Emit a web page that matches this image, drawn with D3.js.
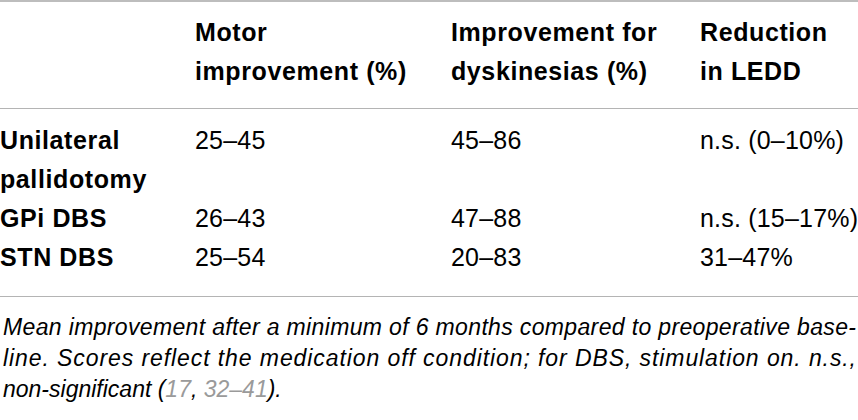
<!DOCTYPE html>
<html>
<head>
<meta charset="utf-8">
<script src="https://cdn.jsdelivr.net/npm/d3@7"></script>
<style>
  body { margin: 0; background: #fff; }
  svg { display: block; }
  text { font-family: "Liberation Sans", Arial, sans-serif; fill: #000; }
</style>
</head>
<body>
<svg id="table" width="858" height="420"></svg>
<script>
// table content
const headers = [
  ["", ""],
  ["Motor", "improvement (%)"],
  ["Improvement for", "dyskinesias (%)"],
  ["Reduction", "in LEDD"]
];
const procedures = [["Unilateral", "pallidotomy"], ["GPi DBS"], ["STN DBS"]];
const motorImprovement = ["25–45", "26–43", "25–54"];
const dyskinesiaImprovement = ["45–86", "47–88", "20–83"];
const leddReduction = ["n.s. (0–10%)", "n.s. (15–17%)", "31–47%"];

const footnoteLines = [
  "Mean improvement after a minimum of 6 months compared to preoperative base-",
  "line. Scores reflect the medication off condition; for DBS, stimulation on. n.s.,"
];
const footnoteLast = [
  { t: "non-significant (", ref: false },
  { t: "17", ref: true },
  { t: ", ", ref: false },
  { t: "32–41", ref: true },
  { t: ").", ref: false }
];

const W = 858;
const svg = d3.select("#table");

// column positions
const colX = d3.scaleOrdinal().domain([0, 1, 2, 3]).range([0, 195, 451, 700]);

// baseline of each text line (header lines, then body lines)
const headY = d3.scaleLinear().domain([0, 1]).range([41, 80]);
const bodyY = d3.scaleLinear().domain([0, 1]).range([149, 188]);
const noteY = d3.scaleLinear().domain([0, 1]).range([335, 366]);

// rules
svg.append("line").attr("x1", 0).attr("x2", W).attr("y1", 1).attr("y2", 1)
  .attr("stroke", "#bdbdbd").attr("stroke-width", 2);
[108.5, 296.5].forEach(y => {
  svg.append("line").attr("x1", 0).attr("x2", W).attr("y1", y).attr("y2", y)
    .attr("stroke", "#b4b4b4").attr("stroke-width", 1);
});

// header
const head = svg.selectAll("text.head")
  .data(headers)
  .enter().append("text")
  .attr("class", "head")
  .attr("font-size", 25)
  .attr("font-weight", "bold")
  .attr("letter-spacing", 0.6);
head.selectAll("tspan")
  .data((d, i) => d.map(t => ({ t: t, col: i })))
  .enter().append("tspan")
  .attr("x", d => colX(d.col))
  .attr("y", (d, j) => headY(j))
  .text(d => d.t);

// body rows
let line = 0;
procedures.forEach((p, r) => {
  const cells = [p, [motorImprovement[r]], [dyskinesiaImprovement[r]], [leddReduction[r]]];
  cells.forEach((c, ci) => {
    c.forEach((t, k) => {
      svg.append("text")
        .attr("x", colX(ci))
        .attr("y", bodyY(line + k))
        .attr("font-size", 25)
        .attr("font-weight", ci === 0 ? "bold" : "normal")
        .attr("letter-spacing", ci === 0 ? 0.6 : 0.2)
        .text(t);
    });
  });
  line += p.length;
});

// footnote (justified lines)
svg.selectAll("text.note")
  .data(footnoteLines)
  .enter().append("text")
  .attr("class", "note")
  .attr("x", 3)
  .attr("y", (d, i) => noteY(i))
  .attr("font-size", 23)
  .attr("font-style", "italic")
  .attr("textLength", 853)
  .attr("lengthAdjust", "spacing")
  .text(d => d);

svg.append("text")
  .attr("x", 3)
  .attr("y", noteY(2))
  .attr("font-size", 23)
  .attr("font-style", "italic")
  .selectAll("tspan")
  .data(footnoteLast)
  .enter().append("tspan")
  .style("fill", d => d.ref ? "#9a9a9a" : "#000")
  .text(d => d.t);
</script>
</body>
</html>
